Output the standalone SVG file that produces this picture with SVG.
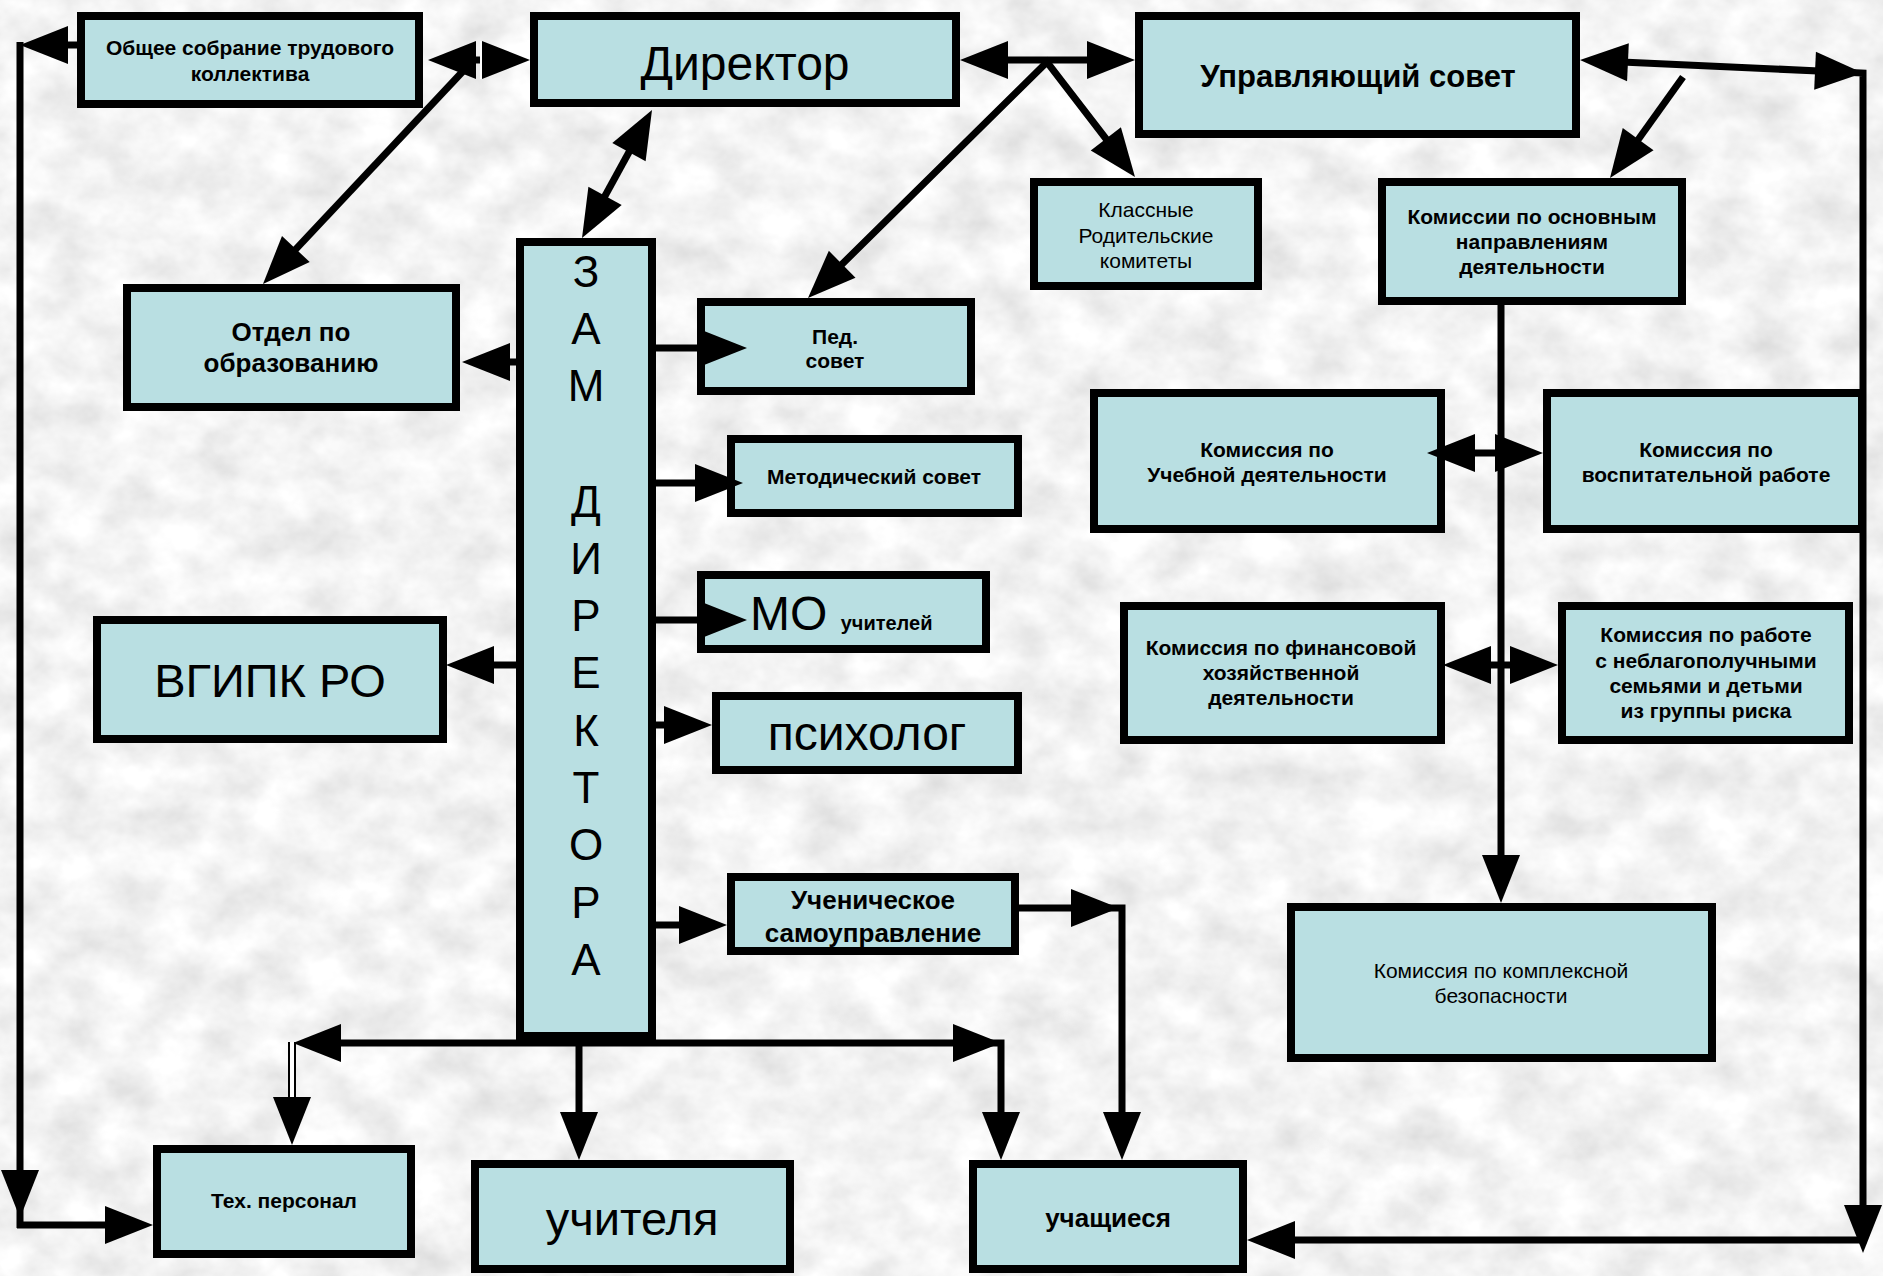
<svg xmlns="http://www.w3.org/2000/svg" xmlns:xlink="http://www.w3.org/1999/xlink" width="1883" height="1276" viewBox="0 0 1883 1276">
<defs>
<filter id="granite" x="0" y="0" width="100%" height="100%">
<feTurbulence type="fractalNoise" baseFrequency="0.02 0.025" numOctaves="4" seed="7" result="n"/>
<feColorMatrix in="n" type="matrix" values="0.4 0 0 0 0.7  0.4 0 0 0 0.7  0.4 0 0 0 0.7  0 0 0 0 1"/>
</filter>
<path id="ah" d="M0,0 L-48,-19 L-48,19 Z"/>
<style>
.box{fill:#b9dfe2;stroke:#000;stroke-width:8}
.ln{fill:none;stroke:#000;stroke-width:7}
.ar{fill:#000}
.t{font-family:"Liberation Sans",Arial,sans-serif;fill:#000;text-anchor:middle}
.st{text-anchor:start}
.b{font-weight:bold}
.s20{font-size:21px}
</style>
</defs>
<rect x="0" y="0" width="1883" height="1276" fill="#ececec"/>
<rect x="0" y="0" width="1883" height="1276" filter="url(#granite)"/>

<g id="n-obshee"><rect class="box" x="81" y="16" width="338" height="88"/>
<text class="t b s20" x="250" y="55">Общее собрание трудового</text><text class="t b s20" x="250" y="81">коллектива</text></g>
<g id="n-direktor"><rect class="box" x="534" y="16" width="422" height="87"/>
<text class="t" x="745" y="80" font-size="48">Директор</text></g>
<g id="n-upr-sovet"><rect class="box" x="1139" y="16" width="437" height="118"/>
<text class="t b" x="1358" y="87" font-size="31">Управляющий совет</text></g>
<g id="n-klassnye"><rect class="box" x="1034" y="182" width="224" height="104"/>
<text class="t s20" x="1146" y="217">Классные</text><text class="t s20" x="1146" y="243">Родительские</text><text class="t s20" x="1146" y="268">комитеты</text></g>
<g id="n-komissii"><rect class="box" x="1382" y="182" width="300" height="119"/>
<text class="t b s20" x="1532" y="224">Комиссии по основным</text><text class="t b s20" x="1532" y="249">направлениям</text><text class="t b s20" x="1532" y="274">деятельности</text></g>
<g id="n-otdel"><rect class="box" x="127" y="288" width="329" height="119"/>
<text class="t b" x="291" y="341" font-size="26">Отдел по</text><text class="t b" x="291" y="372" font-size="26">образованию</text></g>
<g id="n-zam"><rect class="box" x="520" y="242" width="132" height="794"/>
<g class="t" font-size="44">
<text x="586" y="287">З</text><text x="586" y="344">А</text><text x="586" y="401">М</text>
<text x="586" y="517">Д</text><text x="586" y="574">И</text><text x="586" y="631">Р</text><text x="586" y="688">Е</text><text x="586" y="746">К</text><text x="586" y="803">Т</text><text x="586" y="860">О</text><text x="586" y="918">Р</text><text x="586" y="975">А</text>
</g></g>
<g id="n-ped"><rect class="box" x="701" y="302" width="270" height="89"/>
<text class="t b s20" x="835" y="344">Пед.</text><text class="t b s20" x="835" y="368">совет</text></g>
<g id="n-metod"><rect class="box" x="731" y="439" width="287" height="74"/>
<text class="t b s20" x="874" y="484">Методический совет</text></g>
<g id="n-mo"><rect class="box" x="701" y="575" width="285" height="74"/>
<text class="t st" x="750" y="630" font-size="48">МО <tspan font-size="20" font-weight="bold">учителей</tspan></text></g>
<g id="n-psiholog"><rect class="box" x="716" y="696" width="302" height="74"/>
<text class="t" x="867" y="750" font-size="48">психолог</text></g>
<g id="n-vgipk"><rect class="box" x="97" y="620" width="346" height="119"/>
<text class="t" x="270" y="697" font-size="47">ВГИПК РО</text></g>
<g id="n-uchenich"><rect class="box" x="731" y="877" width="284" height="74"/>
<text class="t b" x="873" y="909" font-size="26">Ученическое</text><text class="t b" x="873" y="942" font-size="26">самоуправление</text></g>
<g id="n-ucheb"><rect class="box" x="1094" y="393" width="347" height="136"/>
<text class="t b s20" x="1267" y="457">Комиссия по</text><text class="t b s20" x="1267" y="482">Учебной деятельности</text></g>
<g id="n-vospit"><rect class="box" x="1547" y="393" width="315" height="136"/>
<text class="t b s20" x="1706" y="457">Комиссия по</text><text class="t b s20" x="1706" y="482">воспитательной работе</text></g>
<g id="n-finans"><rect class="box" x="1124" y="606" width="317" height="134"/>
<text class="t b s20" x="1281" y="655">Комиссия по финансовой</text><text class="t b s20" x="1281" y="680">хозяйственной</text><text class="t b s20" x="1281" y="705">деятельности</text></g>
<g id="n-neblag"><rect class="box" x="1562" y="606" width="287" height="134"/>
<text class="t b s20" x="1706" y="642">Комиссия по работе</text><text class="t b s20" x="1706" y="668">с неблагополучными</text><text class="t b s20" x="1706" y="693">семьями и детьми</text><text class="t b s20" x="1706" y="718">из группы риска</text></g>
<g id="n-bezop"><rect class="box" x="1291" y="907" width="421" height="151"/>
<text class="t s20" x="1501" y="978">Комиссия по комплексной</text><text class="t s20" x="1501" y="1003">безопасности</text></g>
<g id="n-teh"><rect class="box" x="157" y="1149" width="254" height="105"/>
<text class="t b s20" x="284" y="1208">Тех. персонал</text></g>
<g id="n-uchitelya"><rect class="box" x="475" y="1164" width="315" height="105"/>
<text class="t" x="632" y="1235" font-size="47">учителя</text></g>
<g id="n-uchaschiesya"><rect class="box" x="973" y="1164" width="270" height="105"/>
<text class="t b" x="1108" y="1227" font-size="26">учащиеся</text></g>

<g id="connectors">
<path class="ln" d="M77,45 H30"/>
<path class="ln" d="M20,42 V1228"/>
<use class="ar" href="#ah" transform="translate(20,45) rotate(180)"/>
<use class="ar" href="#ah" transform="translate(20,1218) rotate(90)"/>
<path class="ln" d="M17,1225 H130"/>
<use class="ar" href="#ah" transform="translate(153,1225)"/>

<path class="ln" d="M440,60 H515"/>
<use class="ar" href="#ah" transform="translate(428,60) rotate(180)"/>
<use class="ar" href="#ah" transform="translate(530,60)"/>
<line x1="481" y1="41" x2="481" y2="79" stroke="#fff" stroke-width="2"/>
<path class="ln" d="M466,68 L280,266"/>
<use class="ar" href="#ah" transform="translate(263,284) rotate(133.2)"/>

<path class="ln" d="M640,132 L594,216"/>
<use class="ar" href="#ah" transform="translate(652,110) rotate(-61.3)"/>
<use class="ar" href="#ah" transform="translate(582,238) rotate(118.7)"/>

<path class="ln" d="M975,60 H1120"/>
<use class="ar" href="#ah" transform="translate(960,60) rotate(180)"/>
<use class="ar" href="#ah" transform="translate(1135,60)"/>
<path class="ln" d="M826,280 L1047,62 L1120,157"/>
<use class="ar" href="#ah" transform="translate(1135,177) rotate(52.6)"/>
<use class="ar" href="#ah" transform="translate(808,298) rotate(135.4)"/>

<path class="ln" d="M1600,61 L1863,73 V1240 H1265"/>
<use class="ar" href="#ah" transform="translate(1580,60) rotate(182.6)"/>
<use class="ar" href="#ah" transform="translate(1863,73) rotate(2.6)"/>
<use class="ar" href="#ah" transform="translate(1863,1253) rotate(90)"/>
<use class="ar" href="#ah" transform="translate(1247,1240) rotate(180)"/>
<path class="ln" d="M1683,77 L1625,158"/>
<use class="ar" href="#ah" transform="translate(1610,178) rotate(125.9)"/>

<path class="ln" d="M1501,301 V885"/>
<use class="ar" href="#ah" transform="translate(1501,903) rotate(90)"/>
<path class="ln" d="M1445,453 H1525"/>
<use class="ar" href="#ah" transform="translate(1427,453) rotate(180)"/>
<use class="ar" href="#ah" transform="translate(1543,453)"/>
<path class="ln" d="M1460,665 H1540"/>
<use class="ar" href="#ah" transform="translate(1443,665) rotate(180)"/>
<use class="ar" href="#ah" transform="translate(1558,665)"/>

<path class="ln" d="M516,362 H480"/>
<use class="ar" href="#ah" transform="translate(462,362) rotate(180)"/>
<path class="ln" d="M516,665 H465"/>
<use class="ar" href="#ah" transform="translate(446,665) rotate(180)"/>
<path class="ln" d="M656,348 H720"/>
<use class="ar" href="#ah" transform="translate(747,348)"/>
<path class="ln" d="M656,483 H720"/>
<use class="ar" href="#ah" transform="translate(743,483)"/>
<path class="ln" d="M656,620 H720"/>
<use class="ar" href="#ah" transform="translate(747,620)"/>
<path class="ln" d="M656,725 H690"/>
<use class="ar" href="#ah" transform="translate(712,725)"/>
<path class="ln" d="M656,925 H705"/>
<use class="ar" href="#ah" transform="translate(727,925)"/>

<path class="ln" d="M1019,908 H1122 V1140"/>
<use class="ar" href="#ah" transform="translate(1119,908)"/>
<use class="ar" href="#ah" transform="translate(1122,1160) rotate(90)"/>

<path class="ln" d="M310,1043 H1001 V1140"/>
<use class="ar" href="#ah" transform="translate(293,1043) rotate(180)"/>
<use class="ar" href="#ah" transform="translate(1001,1043)"/>
<use class="ar" href="#ah" transform="translate(1001,1160) rotate(90)"/>
<path class="ln" d="M579,1043 V1140"/>
<use class="ar" href="#ah" transform="translate(579,1160) rotate(90)"/>

<line x1="292" y1="1042" x2="292" y2="1100" stroke="#fff" stroke-width="4"/>
<line x1="289" y1="1042" x2="289" y2="1100" stroke="#000" stroke-width="2"/>
<line x1="295" y1="1042" x2="295" y2="1100" stroke="#000" stroke-width="2"/>
<use class="ar" href="#ah" transform="translate(292,1145) rotate(90)"/>
</g>
</svg>
